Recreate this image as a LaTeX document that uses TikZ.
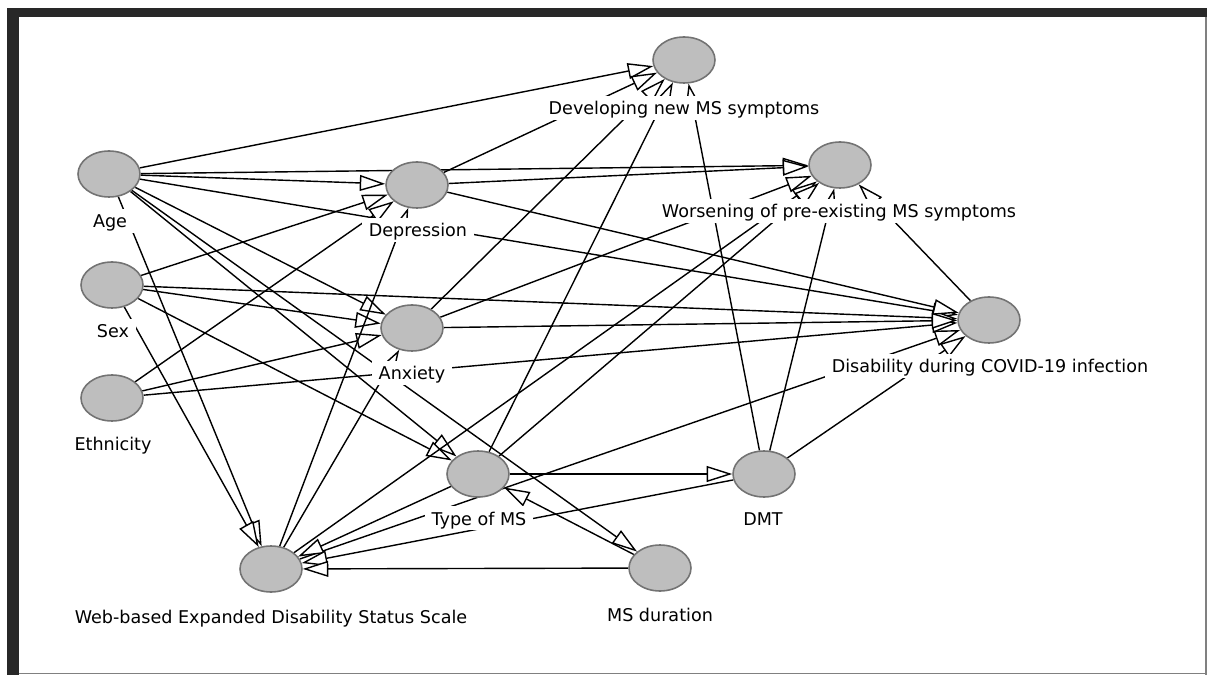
\documentclass[tikz,border=0pt]{standalone}
\usepackage{fontspec}
\setmainfont{DejaVu Sans}
\usetikzlibrary{arrows.meta,shapes.geometric}
\pgfdeclarelayer{edges}
\pgfsetlayers{edges,main}
\definecolor{nodefill}{RGB}{190,190,190}
\definecolor{nodeline}{RGB}{115,115,115}
\definecolor{framedark}{RGB}{40,40,40}

\begin{document}
\begin{tikzpicture}[x=0.02cm,y=-0.02cm,
    var/.style={ellipse,draw=nodeline,fill=nodefill,line width=0.9pt,
        minimum width=1.24cm,minimum height=0.92cm,inner sep=0pt},
    lbl/.style={anchor=base,fill=white,inner xsep=4pt,inner ysep=1pt,
        text height=10pt,text depth=2pt,font=\fontsize{10}{12}\selectfont},
    link/.style={line width=0.8pt,-{Triangle[length=14.5pt,width=9pt,fill=white]}}]
\useasboundingbox (0,0) rectangle (1207,675);
% window frame
\fill[framedark] (7,8) rectangle (1207,17);
\fill[framedark] (7,8) rectangle (19,675);
\draw[gray,line width=0.6pt] (19,673.5) -- (1207,673.5) (1206,17) -- (1206,675);
% variables
\path
    (109,174) node [var] (age) {} +(1,54) node [lbl] (age-l) {Age}
    (112,285) node [var] (sex) {} +(1,53) node [lbl] (sex-l) {Sex}
    (112,398) node [var] (eth) {} +(1,53) node [lbl] (eth-l) {Ethnicity}
    (417,185) node [var] (dep) {} +(1,52) node [lbl] (dep-l) {Depression}
    (412,328) node [var] (anx) {} +(0,52) node [lbl] (anx-l) {Anxiety}
    (684,60) node [var] (dev) {} +(0,55) node [lbl] (dev-l) {Developing new MS symptoms}
    (840,165) node [var] (wor) {} +(-1,53) node [lbl] (wor-l) {Worsening of pre-existing MS symptoms}
    (989,320) node [var] (dis) {} +(1,53) node [lbl] (dis-l) {Disability during COVID-19 infection}
    (478,474) node [var] (tms) {} +(1,51) node [lbl] (tms-l) {Type of MS}
    (764,474) node [var] (dmt) {} +(-1,51) node [lbl] (dmt-l) {DMT}
    (660,568) node [var] (dur) {} +(0,53) node [lbl] (dur-l) {MS duration}
    (271,569) node [var] (web) {} +(0,54) node [lbl] (web-l) {Web-based Expanded Disability Status Scale};
% arrows, kept under the nodes and labels
\begin{pgfonlayer}{edges}
\draw [link] (age) edge (dev) edge (wor) edge (dep) edge (dis) edge (anx) edge (tms) edge (dur) edge (web);
\draw [link] (sex) edge (dep) edge (dis) edge (anx) edge (tms) edge (web);
\draw [link] (eth) edge (dep) edge (anx) edge (dis);
\draw [link] (dep) edge (dev) edge (wor) edge (dis);
\draw [link] (anx) edge (dev) edge (wor) edge (dis);
\draw [link] (web) edge (dep) edge (anx) edge (wor) edge (dis);
\draw [link] (tms) edge (dev) edge (wor) edge (dmt) edge (web);
\draw [link] (dmt) edge (dev) edge (wor) edge (dis) edge (web);
\draw [link] (dur) edge (web) edge (tms);
\draw [link] (dis) edge (wor);
\end{pgfonlayer}
\end{tikzpicture}
\end{document}
